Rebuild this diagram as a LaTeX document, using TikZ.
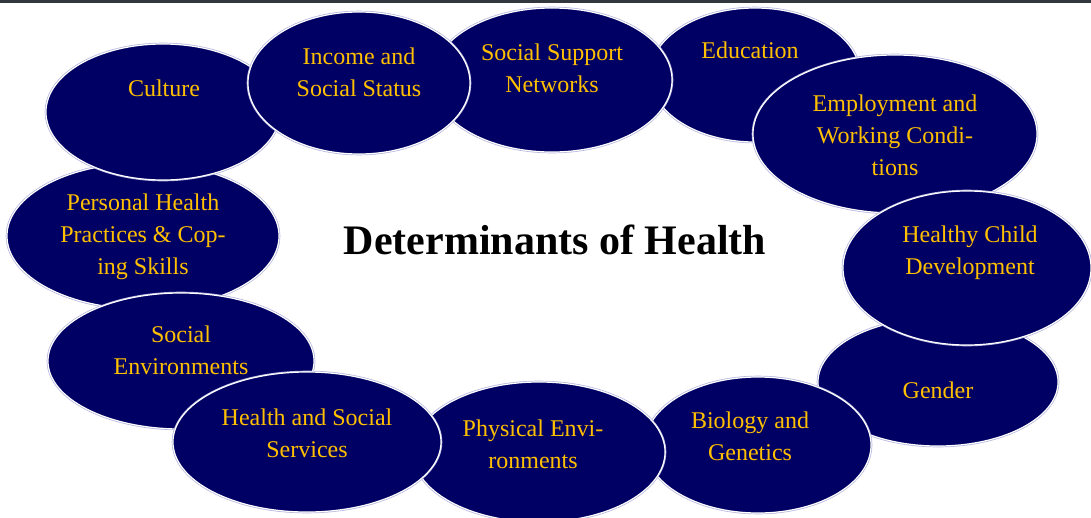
\documentclass[tikz,border=0pt]{standalone}
\usepackage{fontspec}
\setmainfont{Liberation Serif}
\usetikzlibrary{shapes.geometric}
\definecolor{navy}{RGB}{0,0,100}
\definecolor{gold}{RGB}{255,192,0}
\definecolor{halo}{RGB}{180,180,220}
\definecolor{barcol}{RGB}{50,55,62}
\begin{document}
\begin{tikzpicture}[x=1pt,y=-1pt,
  blob/.style={ellipse, fill=navy, draw=white, line width=1.2pt,
    preaction={draw=halo, line width=2.6pt}, inner sep=0pt},
  lbl/.style={text=gold, align=center, inner sep=0pt,
    font=\fontsize{24}{32}\selectfont}]
\useasboundingbox (0,0) rectangle (1091,517);
\clip (0,0) rectangle (1091,517);
\fill [barcol] (0,0) rectangle (1091,3);
% ring of determinants, bottom layer first
\node [blob, minimum width=272pt, minimum height=146pt] (pers) at (143,236) {};
\node [blob, minimum width=266pt, minimum height=136pt] (socenv) at (181,361) {};
\node [blob, minimum width=234pt, minimum height=136pt] (cult) at (163,112) {};
\node [blob, minimum width=210pt, minimum height=134pt] (educ) at (755,75) {};
\node [blob, minimum width=240pt, minimum height=144pt] (supp) at (552,80) {};
\node [blob, minimum width=222pt, minimum height=142pt] (inc) at (359,83) {};
\node [blob, minimum width=284pt, minimum height=158pt] (empl) at (895,134) {};
\node [blob, minimum width=240pt, minimum height=128pt] (gend) at (938,382) {};
\node [blob, minimum width=248pt, minimum height=154pt] (child) at (967,268) {};
\node [blob, minimum width=226pt, minimum height=136pt] (bio) at (758,445) {};
\node [blob, minimum width=252pt, minimum height=140pt] (phys) at (539,452) {};
\node [blob, minimum width=268pt, minimum height=140pt] (serv) at (307,442) {};
% labels
\node [lbl] (perst) at (143,237) {Personal Health\\Practices \& Cop-\\ing Skills};
\node [lbl] (socenvt) at (181,350) {Social\\Environments};
\node [lbl] (cultt) at (164,88) {Culture};
\node [lbl] (educt) at (750,50) {Education};
\node [lbl] (suppt) at (552,68) {Social Support\\Networks};
\node [lbl] (inct) at (359,72) {Income and\\Social Status};
\node [lbl] (emplt) at (895,135) {Employment and\\Working Condi-\\tions};
\node [lbl] (gendt) at (938,390) {Gender};
\node [lbl] (childt) at (970,253) {Healthy Child\\Development};
\node [lbl] (biot) at (750,436) {Biology and\\Genetics};
\node [lbl] (physt) at (533,444) {Physical Envi-\\ronments};
\node [lbl] (servt) at (307,433) {Health and Social\\Services};
\node [font=\fontsize{42}{50}\selectfont\bfseries] (title) at (555,240) {Determinants of Health};
\end{tikzpicture}
\end{document}
